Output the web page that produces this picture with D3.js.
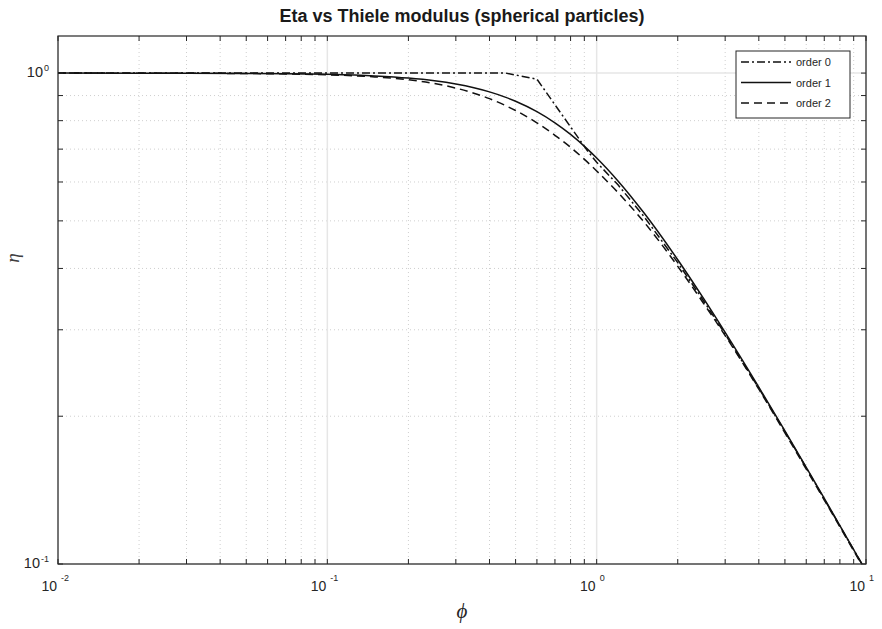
<!DOCTYPE html>
<html>
<head>
<meta charset="utf-8">
<script src="https://cdn.jsdelivr.net/npm/d3@7"></script>
<style>
  body { margin: 0; background: #fff; }
  text { font-family: "Liberation Sans", Arial, Helvetica, sans-serif; }
</style>
</head>
<body>
<svg id="chart" width="882" height="629"></svg>
<script>
// Thiele modulus samples and effectiveness factors for each reaction order
const phi  = [0.01, 0.02, 0.03, 0.05, 0.07, 0.1, 0.15, 0.2, 0.25, 0.3, 0.35, 0.4, 0.46, 0.5,
              0.6, 0.7, 0.8, 0.92, 1.0, 1.2, 1.5, 2, 2.5, 3, 4, 5, 6, 7, 8, 10];
const eta0 = [1, 1, 1, 1, 1, 1, 1, 1, 1, 1, 1, 1, 1, 0.991,
              0.972, 0.862, 0.777, 0.697, 0.658, 0.592, 0.510, 0.411, 0.343, 0.294, 0.228, 0.186, 0.157, 0.1355, 0.1195, 0.0968];
const eta1 = [0.99994, 0.99976, 0.99946, 0.9985, 0.99707, 0.99405, 0.98676, 0.97682, 0.96435, 0.94983, 0.93345, 0.91552, 0.8924, 0.87625,
              0.83438, 0.7918, 0.74991, 0.7018, 0.67164, 0.6031, 0.51868, 0.41667, 0.34667, 0.2963, 0.22917, 0.18667, 0.15741, 0.13605, 0.11979, 0.09667];
const eta2 = [0.99992, 0.99968, 0.99928, 0.998, 0.9961, 0.9921, 0.9823, 0.969, 0.952, 0.932, 0.910, 0.887, 0.858, 0.839,
              0.792, 0.747, 0.706, 0.660, 0.632, 0.571, 0.497, 0.404, 0.339, 0.292, 0.227, 0.185, 0.156, 0.135, 0.119, 0.0962];

const seriesNames = ["order 0", "order 1", "order 2"];
const xTickExps = [-2, -1, 0, 1];
const yTickExps = [-1, 0];
const xDomain = [0.01, 10];
const yDomain = [0.1, 1.19];
const titleText = "Eta vs Thiele modulus (spherical particles)";

const svg = d3.select("#chart");
const plot = { left: 58, right: 866, top: 36, bottom: 564 };

const x = d3.scaleLog().domain(xDomain).range([plot.left, plot.right]);
const y = d3.scaleLog().domain(yDomain).range([plot.bottom, plot.top]);

// major and minor tick values on each log axis
function logTicks(domain) {
  const major = [], minor = [];
  const lo = Math.floor(Math.log10(domain[0])), hi = Math.ceil(Math.log10(domain[1]));
  for (let e = lo; e <= hi; e++) {
    for (let m = 1; m <= 9; m++) {
      const v = m * Math.pow(10, e);
      if (v < domain[0] * 0.9999 || v > domain[1] * 1.0001) continue;
      (m === 1 ? major : minor).push(v);
    }
  }
  return { major, minor };
}
const xt = logTicks(xDomain), yt = logTicks(yDomain);

// grid: dotted minor lines, faint solid major lines
const grid = svg.append("g");
grid.selectAll(".gxm").data(xt.minor).join("line")
  .attr("x1", d => x(d)).attr("x2", d => x(d))
  .attr("y1", plot.top).attr("y2", plot.bottom)
  .attr("stroke", "#cfcfcf").attr("stroke-width", 1).attr("stroke-dasharray", "1,3");
grid.selectAll(".gym").data(yt.minor).join("line")
  .attr("y1", d => y(d)).attr("y2", d => y(d))
  .attr("x1", plot.left).attr("x2", plot.right)
  .attr("stroke", "#cfcfcf").attr("stroke-width", 1).attr("stroke-dasharray", "1,3");
grid.selectAll(".gxM").data(xt.major).join("line")
  .attr("x1", d => x(d)).attr("x2", d => x(d))
  .attr("y1", plot.top).attr("y2", plot.bottom)
  .attr("stroke", "#e6e6e6").attr("stroke-width", 1.5);
grid.selectAll(".gyM").data(yt.major).join("line")
  .attr("y1", d => y(d)).attr("y2", d => y(d))
  .attr("x1", plot.left).attr("x2", plot.right)
  .attr("stroke", "#e6e6e6").attr("stroke-width", 1.5);

// data curves
svg.append("defs").append("clipPath").attr("id", "plotClip")
  .append("rect").attr("x", plot.left).attr("y", plot.top)
  .attr("width", plot.right - plot.left).attr("height", plot.bottom - plot.top);

const styles = [
  { dash: "8,3,2,3", curve: d3.curveLinear },
  { dash: null,      curve: d3.curveMonotoneX },
  { dash: "8,5",     curve: d3.curveMonotoneX }
];
const seriesData = [eta0, eta1, eta2];

const lines = svg.append("g").attr("clip-path", "url(#plotClip)");
seriesData.forEach((vals, i) => {
  const line = d3.line().x(d => x(d[0])).y(d => y(d[1])).curve(styles[i].curve);
  lines.append("path")
    .datum(phi.map((p, k) => [p, vals[k]]))
    .attr("d", line)
    .attr("fill", "none")
    .attr("stroke", "#111")
    .attr("stroke-width", 1.5)
    .attr("stroke-dasharray", styles[i].dash);
});

// axes frame and inward ticks on all four sides
const axisColor = "#262626";
const tickLen = 5;
const frame = svg.append("g");
frame.append("rect")
  .attr("x", plot.left).attr("y", plot.top)
  .attr("width", plot.right - plot.left).attr("height", plot.bottom - plot.top)
  .attr("fill", "none").attr("stroke", axisColor).attr("stroke-width", 1.2);

const xAll = xt.major.concat(xt.minor), yAll = yt.major.concat(yt.minor);
frame.selectAll(".tb").data(xAll).join("line")
  .attr("x1", d => x(d)).attr("x2", d => x(d))
  .attr("y1", plot.bottom).attr("y2", plot.bottom - tickLen)
  .attr("stroke", axisColor);
frame.selectAll(".tt").data(xAll).join("line")
  .attr("x1", d => x(d)).attr("x2", d => x(d))
  .attr("y1", plot.top).attr("y2", plot.top + tickLen)
  .attr("stroke", axisColor);
frame.selectAll(".tl").data(yAll).join("line")
  .attr("y1", d => y(d)).attr("y2", d => y(d))
  .attr("x1", plot.left).attr("x2", plot.left + tickLen)
  .attr("stroke", axisColor);
frame.selectAll(".tr").data(yAll).join("line")
  .attr("y1", d => y(d)).attr("y2", d => y(d))
  .attr("x1", plot.right).attr("x2", plot.right - tickLen)
  .attr("stroke", axisColor);

// x tick labels: 10 with exponent
const xl = svg.append("g").attr("fill", axisColor);
xTickExps.forEach(e => {
  const px = x(Math.pow(10, e));
  xl.append("text").attr("x", px - 1).attr("y", plot.bottom + 27)
    .attr("text-anchor", "end").attr("font-size", 14).text("10");
  xl.append("text").attr("x", px + 3).attr("y", plot.bottom + 17)
    .attr("text-anchor", "start").attr("font-size", 9).text(String(e));
});

// y tick labels
const yl = svg.append("g").attr("fill", axisColor);
yTickExps.forEach(e => {
  const py = y(Math.pow(10, e));
  const t = yl.append("text").attr("x", 49).attr("y", py + 4)
    .attr("text-anchor", "end");
  t.append("tspan").attr("font-size", 14.5).text("10");
  t.append("tspan").attr("font-size", 9).attr("dx", 1).attr("dy", -6).text(String(e));
});

// axis labels
svg.append("text")
  .attr("x", (plot.left + plot.right) / 2).attr("y", 618)
  .attr("text-anchor", "middle")
  .style("font-family", "'Liberation Serif', 'Times New Roman', serif")
  .attr("font-style", "italic").attr("font-size", 21).attr("fill", axisColor)
  .text("\u03d5");
svg.append("text")
  .attr("transform", "translate(19,258) rotate(-90)")
  .attr("text-anchor", "middle")
  .style("font-family", "'Liberation Serif', 'Times New Roman', serif")
  .attr("font-style", "italic").attr("font-size", 19).attr("fill", "#404040")
  .text("\u03b7");

// title
svg.append("text")
  .attr("x", (plot.left + plot.right) / 2).attr("y", 22)
  .attr("text-anchor", "middle").attr("font-weight", "bold")
  .attr("font-size", 18).attr("fill", "#1a1a1a")
  .text(titleText);

// legend
const lg = svg.append("g").attr("transform", "translate(736,51)");
lg.append("rect").attr("width", 114).attr("height", 67)
  .attr("fill", "#fff").attr("stroke", axisColor).attr("stroke-width", 1);
seriesNames.forEach((name, i) => {
  const ly = 11 + i * 20.5;
  lg.append("line").attr("x1", 5).attr("x2", 55).attr("y1", ly).attr("y2", ly)
    .attr("stroke", "#111").attr("stroke-width", 1.5)
    .attr("stroke-dasharray", styles[i].dash);
  lg.append("text").attr("x", 60).attr("y", ly + 4)
    .attr("font-size", 11).attr("fill", axisColor).text(name);
});
</script>
</body>
</html>
